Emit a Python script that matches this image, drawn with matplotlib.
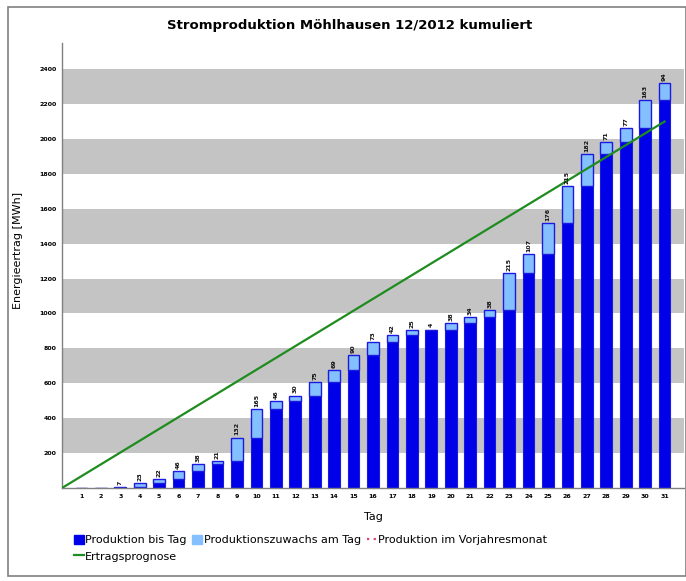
import numpy as np
import matplotlib
matplotlib.use("Agg")
import matplotlib.pyplot as plt
from matplotlib.lines import Line2D
from matplotlib.patches import Patch, Rectangle

# ---- data ----
days = list(range(1, 32))
daily_increase = [0, 0, 7, 23, 22, 46, 38, 21, 132, 165, 46, 30, 75, 69, 90, 73,
                  42, 25, 4, 38, 34, 38, 215, 107, 176, 215, 182, 71, 77, 163, 94]
forecast_days = [0, 31]
forecast_values = [0, 2100]
y_ticks = [200, 400, 600, 800, 1000, 1200, 1400, 1600, 1800, 2000, 2200, 2400]

title = "Stromproduktion Möhlhausen 12/2012 kumuliert"
x_label = "Tag"
y_label = "Energieertrag [MWh]"
legend_labels = ["Produktion bis Tag", "Produktionszuwachs am Tag",
                 "Produktion im Vorjahresmonat", "Ertragsprognose"]

cumulative = np.cumsum(daily_increase)
previous = cumulative - np.array(daily_increase)

dark_blue = "#0000E8"
light_blue = "#84C0FF"
edge_blue = "#1A1AE0"
green = "#1E8C1E"
band_grey = "#C4C4C4"

fig = plt.figure(figsize=(6.86, 5.81), dpi=100)
ax = fig.add_axes([62/686, (581-488)/581, (684-62)/686, (488-43)/581])

ymax = 2550
ax.set_xlim(0, 32)
ax.set_ylim(0, ymax)

# alternating grey bands
for lo in range(200, 2400, 400):
    ax.axhspan(lo, lo + 200, color=band_grey, lw=0, zorder=0)

w = 0.6
ax.bar(days, previous, width=w, color=dark_blue, edgecolor=edge_blue, lw=0.8, zorder=2)
ax.bar(days, daily_increase, bottom=previous, width=w, color=light_blue,
       edgecolor=edge_blue, lw=1.0, zorder=2)

for d, top, inc in zip(days, cumulative, daily_increase):
    if inc > 0:
        ax.text(d, top + 12, str(inc), rotation=90, ha="center", va="bottom",
                fontsize=4.5, color="#111111", fontweight="bold", zorder=4)

ax.plot(forecast_days, forecast_values, color=green, lw=1.6, zorder=3)

ax.set_xticks(days)
ax.set_xticklabels([str(d) for d in days], fontsize=4.5, fontweight="bold")
ax.set_yticks(y_ticks)
ax.set_yticklabels([str(v) for v in y_ticks], fontsize=4.5, fontweight="bold")
ax.tick_params(axis="both", length=0, pad=4)
for s in ["top", "right"]:
    ax.spines[s].set_visible(False)
for s in ["left", "bottom"]:
    ax.spines[s].set_color("#808080")
    ax.spines[s].set_linewidth(1.0)

ax.set_xlabel(x_label, fontsize=8, labelpad=10)
fig.text(18/686, 1 - 250/581, y_label, rotation=90, ha="center", va="center", fontsize=8)
fig.text(350/686, 1 - 25/581, title, ha="center", va="center", fontsize=9.5, fontweight="bold")

# outer frame
fig.patches.append(Rectangle((8/686, 1 - 576/581), (686 - 8)/686, (576 - 7)/581,
                             transform=fig.transFigure, fill=False,
                             edgecolor="#808080", lw=1.2))

handles = [Patch(facecolor=dark_blue, edgecolor=dark_blue),
           Line2D([], [], color=green, lw=1.6),
           Patch(facecolor=light_blue, edgecolor=light_blue),
           Line2D([], [], color="#E0407A", lw=1.6, linestyle=(0, (1, 2)))]
labels = [legend_labels[0], legend_labels[3], legend_labels[1], legend_labels[2]]
fig.legend(handles, labels, loc="upper left", bbox_to_anchor=(68/686, 1 - 529/581),
           ncol=3, frameon=False, fontsize=8, handlelength=0.9, handleheight=0.9,
           handletextpad=0.15, columnspacing=0.5, labelspacing=0.55, borderpad=0)

fig.savefig("out.png", dpi=100)
